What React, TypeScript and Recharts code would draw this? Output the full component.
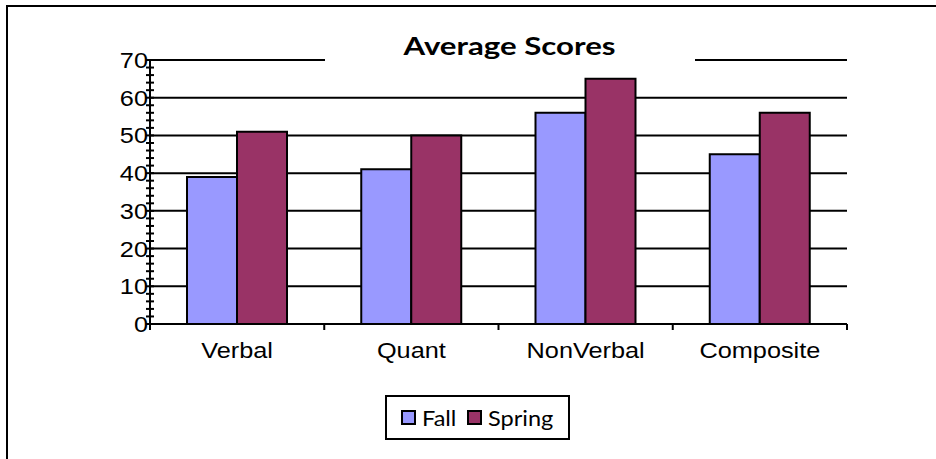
import { BarChart, Bar, XAxis, YAxis, CartesianGrid } from 'recharts'

const categories = ['Verbal', 'Quant', 'NonVerbal', 'Composite']
const fallScores = [39, 41, 56, 45]
const springScores = [51, 50, 65, 56]
const yTicks = Array.from({ length: 36 }, (_, i) => i * 2)
const gridValues = [10, 20, 30, 40, 50, 60, 70]

const series = [
  { key: 'fall', name: 'Fall', color: '#9999FF' },
  { key: 'spring', name: 'Spring', color: '#993366' },
]

const data = categories.map((name, i) => ({
  name,
  fall: fallScores[i],
  spring: springScores[i],
}))

const W = 936
const H = 459
const margin = { top: 60, right: 89, bottom: 95, left: 90 }
const band = (W - margin.left - margin.right - 60) / categories.length
const stretch = 1.15
const axisFont = '"Liberation Sans", Arial, sans-serif'
const titleFont = 'Lato, "Open Sans", sans-serif'

function XTick(props: any) {
  const { x, y, payload, index } = props
  const left = x - band / 2
  const right = x + band / 2
  return (
    <g>
      <line x1={left} y1={y} x2={left} y2={y + 6} stroke="#000" strokeWidth={2} />
      {index === categories.length - 1 && (
        <line x1={right} y1={y} x2={right} y2={y + 6} stroke="#000" strokeWidth={2} />
      )}
      <text
        transform={`translate(${x},${y + 34}) scale(${stretch},1)`}
        textAnchor="middle"
        fontFamily={axisFont}
        fontSize={22}
        fill="#000"
      >
        {payload.value}
      </text>
    </g>
  )
}

function YTick(props: any) {
  const { x, y, payload } = props
  const major = payload.value % 10 === 0
  return (
    <g>
      <line x1={x - 4} y1={y} x2={x + 4} y2={y} stroke="#000" strokeWidth={2} />
      {major && (
        <text
          transform={`translate(${x - 2},${y + 8}) scale(${stretch},1)`}
          textAnchor="end"
          fontFamily={axisFont}
          fontSize={22}
          fill="#000"
        >
          {payload.value}
        </text>
      )}
    </g>
  )
}

export default function App() {
  return (
    <div style={{ position: 'absolute', left: 0, top: 0, width: W, height: H, background: '#fff' }}>
      <div
        style={{
          position: 'absolute',
          left: 6,
          top: 5,
          width: W - 6,
          height: H - 5,
          borderTop: '2px solid #000',
          borderLeft: '2px solid #000',
          boxSizing: 'border-box',
        }}
      />
      <BarChart width={W} height={H} data={data} margin={margin} barGap={0} barSize={50}>
        <CartesianGrid vertical={false} horizontalValues={gridValues} stroke="#000" strokeWidth={2} />
        <XAxis
          dataKey="name"
          axisLine={{ stroke: '#000', strokeWidth: 2 }}
          tickLine={false}
          tickSize={0}
          tickMargin={0}
          height={40}
          tick={<XTick />}
          interval={0}
        />
        <YAxis
          domain={[0, 70]}
          ticks={yTicks}
          interval={0}
          axisLine={{ stroke: '#000', strokeWidth: 2 }}
          tickLine={false}
          tickSize={0}
          tickMargin={0}
          width={60}
          tick={<YTick />}
        />
        {series.map((s) => (
          <Bar
            key={s.key}
            dataKey={s.key}
            name={s.name}
            fill={s.color}
            stroke="#000"
            strokeWidth={2}
            isAnimationActive={false}
          />
        ))}
      </BarChart>
      <div
        style={{
          position: 'absolute',
          left: 325,
          top: 28,
          width: 370,
          height: 36,
          background: '#fff',
          textAlign: 'center',
          fontFamily: titleFont,
          fontWeight: 700,
          fontSize: 24,
          lineHeight: '36px',
        }}
      >
        <span style={{ display: 'inline-block', transform: 'scaleX(1.3)' }}>Average Scores</span>
      </div>
      <div
        style={{
          position: 'absolute',
          left: 385,
          top: 395,
          width: 185,
          height: 45,
          border: '2px solid #000',
          boxSizing: 'border-box',
          display: 'flex',
          alignItems: 'center',
          justifyContent: 'center',
          fontFamily: titleFont,
          fontSize: 21,
        }}
      >
        {series.map((s) => (
          <div key={s.key} style={{ display: 'flex', alignItems: 'center', margin: '0 3px' }}>
            <span
              style={{
                width: 15,
                height: 15,
                background: s.color,
                border: '2px solid #000',
                boxSizing: 'border-box',
                marginRight: 6,
              }}
            />
            <span style={{ display: 'inline-block', transform: 'scaleX(1.12)', transformOrigin: 'left center', marginRight: 8 }}>
              {s.name}
            </span>
          </div>
        ))}
      </div>
    </div>
  )
}
